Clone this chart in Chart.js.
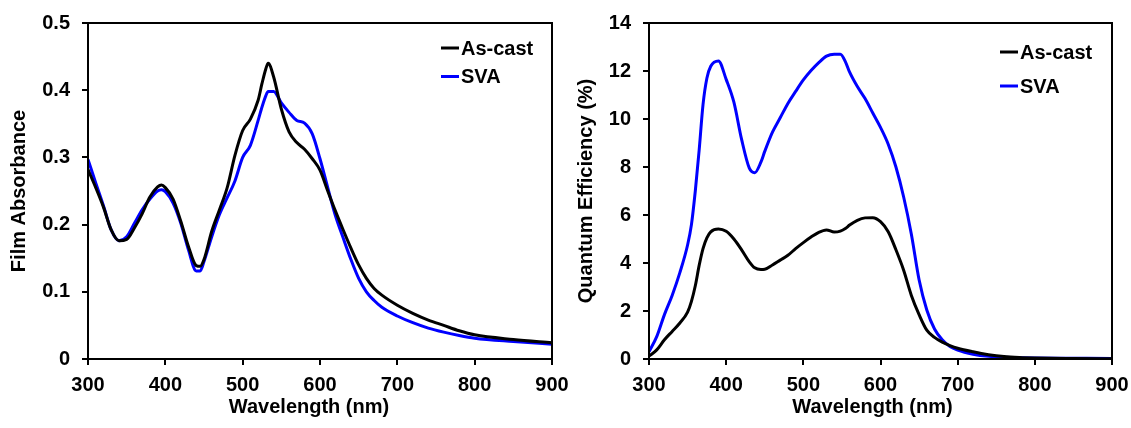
<!DOCTYPE html>
<html>
<head>
<meta charset="utf-8">
<script src="https://cdn.jsdelivr.net/npm/chart.js@4.4.1/dist/chart.umd.min.js"></script>
<style>
  html, body { margin: 0; padding: 0; background: #fff; }
  #wrap { position: relative; width: 1131px; height: 428px; overflow: hidden; }
  #absPanel { position: absolute; left: 0; top: 0; }
  #eqePanel { position: absolute; left: 570px; top: 0; }
</style>
</head>
<body>
<div id="wrap">
  <canvas id="absPanel" width="570" height="428"></canvas>
  <canvas id="eqePanel" width="561" height="428"></canvas>
</div>
<script>
// ---- Film absorbance spectra (left panel) ----
const absWavelength = [300, 310, 320, 330, 340, 350, 360, 370, 380, 390, 395, 400, 410, 420, 430, 440, 445, 450, 460, 470, 480, 490, 500, 510, 520, 525, 530, 533, 540, 550, 560, 570, 580, 590, 600, 610, 620, 630, 640, 650, 660, 670, 680, 700, 720, 740, 760, 780, 800, 850, 900];
const absAsCast = [0.282, 0.255, 0.226, 0.192, 0.176, 0.178, 0.195, 0.216, 0.241, 0.256, 0.259, 0.255, 0.238, 0.205, 0.167, 0.139, 0.138, 0.148, 0.190, 0.222, 0.255, 0.303, 0.340, 0.357, 0.385, 0.410, 0.432, 0.440, 0.420, 0.372, 0.338, 0.322, 0.312, 0.298, 0.281, 0.250, 0.220, 0.192, 0.165, 0.140, 0.120, 0.105, 0.095, 0.080, 0.068, 0.058, 0.050, 0.042, 0.036, 0.029, 0.024];
const absSVA = [0.297, 0.262, 0.228, 0.192, 0.176, 0.182, 0.202, 0.222, 0.238, 0.250, 0.252, 0.249, 0.232, 0.202, 0.162, 0.131, 0.131, 0.145, 0.182, 0.215, 0.240, 0.265, 0.300, 0.318, 0.355, 0.375, 0.392, 0.398, 0.398, 0.381, 0.367, 0.355, 0.351, 0.335, 0.298, 0.255, 0.213, 0.180, 0.148, 0.120, 0.100, 0.087, 0.077, 0.064, 0.054, 0.046, 0.040, 0.035, 0.031, 0.026, 0.022];
const absTicks = [0, 0.1, 0.2, 0.3, 0.4, 0.5];

// ---- External quantum efficiency spectra (right panel) ----
const eqeWavelength = [300, 310, 320, 330, 340, 350, 355, 360, 365, 370, 375, 380, 390, 400, 410, 420, 430, 437, 445, 450, 460, 470, 480, 490, 500, 510, 520, 530, 540, 548, 555, 560, 570, 580, 590, 600, 610, 620, 630, 640, 650, 660, 670, 680, 690, 700, 720, 740, 760, 780, 800, 850, 900];
const eqeAsCast = [0.12, 0.38, 0.80, 1.15, 1.50, 1.95, 2.40, 3.05, 3.90, 4.60, 5.05, 5.30, 5.42, 5.32, 5.00, 4.55, 4.05, 3.80, 3.73, 3.74, 3.92, 4.12, 4.32, 4.60, 4.85, 5.08, 5.28, 5.38, 5.29, 5.33, 5.45, 5.58, 5.78, 5.88, 5.89, 5.72, 5.30, 4.55, 3.70, 2.65, 1.85, 1.20, 0.90, 0.70, 0.56, 0.45, 0.30, 0.18, 0.10, 0.06, 0.04, 0.02, 0.01];
const eqeSVA = [0.30, 0.93, 1.85, 2.65, 3.60, 4.75, 5.60, 7.00, 8.70, 10.60, 11.70, 12.20, 12.42, 11.65, 10.70, 9.15, 7.95, 7.76, 8.20, 8.65, 9.45, 10.05, 10.65, 11.15, 11.63, 12.02, 12.35, 12.62, 12.70, 12.70, 12.35, 11.95, 11.35, 10.85, 10.25, 9.65, 8.95, 8.00, 6.75, 5.20, 3.30, 2.04, 1.25, 0.80, 0.52, 0.37, 0.20, 0.11, 0.07, 0.05, 0.04, 0.03, 0.02];
const eqeTicks = [0, 2, 4, 6, 8, 10, 12, 14];

const wavelengthTicks = [300, 400, 500, 600, 700, 800, 900];
const seriesNames = ['As-cast', 'SVA'];
const seriesColors = ['#000000', '#0000ff'];
const xTitleText = 'Wavelength (nm)';

const FONT_FAMILY = '"Liberation Sans", Arial, Helvetica, sans-serif';
Chart.defaults.font.family = FONT_FAMILY;
Chart.defaults.font.size = 20;
Chart.defaults.font.weight = 'bold';
Chart.defaults.color = '#000';

// Closed black frame around the plotting area
const plotFrame = {
  id: 'plotFrame',
  afterDraw(chart) {
    const { ctx, chartArea: a } = chart;
    ctx.save();
    ctx.strokeStyle = '#000';
    ctx.lineWidth = 2;
    ctx.strokeRect(a.left, a.top, a.right - a.left, a.bottom - a.top);
    ctx.restore();
  }
};

// Horizontal axis title, set slightly left of the plot centre
const xAxisTitle = {
  id: 'xAxisTitle',
  afterDraw(chart, args, opts) {
    const { ctx, chartArea: a } = chart;
    ctx.save();
    ctx.font = 'bold 20px ' + FONT_FAMILY;
    ctx.fillStyle = '#000';
    ctx.textAlign = 'center';
    ctx.textBaseline = 'middle';
    ctx.fillText(opts.text, (a.left + a.right) / 2 + opts.dx, a.bottom + opts.dy);
    ctx.restore();
  }
};

// Stacked legend: short line sample followed by the series name
const seriesKey = {
  id: 'seriesKey',
  afterDraw(chart, args, opts) {
    const { ctx, chartArea: a } = chart;
    ctx.save();
    ctx.font = 'bold 20px ' + FONT_FAMILY;
    ctx.textBaseline = 'middle';
    ctx.textAlign = 'left';
    chart.data.datasets.forEach((ds, i) => {
      const x = a.left + opts.left;
      const y = a.top + opts.top + i * opts.gap;
      ctx.strokeStyle = ds.borderColor;
      ctx.lineWidth = 3;
      ctx.beginPath();
      ctx.moveTo(x, y);
      ctx.lineTo(x + opts.len, y);
      ctx.stroke();
      ctx.fillStyle = '#000';
      ctx.fillText(ds.label, x + opts.len + 2, y + 1);
    });
    ctx.restore();
  }
};

function toPoints(xs, ys) {
  return xs.map((x, i) => ({ x: x, y: ys[i] }));
}

function makePanel(canvasId, cfg) {
  const datasets = cfg.series.map((ys, i) => ({
    label: seriesNames[i],
    data: toPoints(cfg.x, ys),
    borderColor: seriesColors[i],
    backgroundColor: seriesColors[i],
    borderWidth: 3,
    pointRadius: 0,
    cubicInterpolationMode: 'monotone',
    fill: false
  }));
  return new Chart(document.getElementById(canvasId), {
    type: 'line',
    data: { datasets: datasets },
    options: {
      responsive: false,
      animation: false,
      devicePixelRatio: 1,
      layout: { padding: { left: 0, top: 23, right: cfg.padRight, bottom: 0 } },
      plugins: {
        legend: { display: false },
        tooltip: { enabled: false },
        seriesKey: cfg.key,
        xAxisTitle: { text: xTitleText, dx: cfg.xTitleDx, dy: 48 }
      },
      scales: {
        x: {
          type: 'linear',
          min: 300,
          max: 900,
          afterBuildTicks: s => { s.ticks = wavelengthTicks.map(v => ({ value: v })); },
          afterFit: s => { s.height = 69; s.paddingLeft = 0; s.paddingRight = 0; },
          border: { display: false },
          grid: { drawOnChartArea: false, drawTicks: true, tickLength: 6, color: '#000', lineWidth: 2 },
          ticks: { padding: 8, maxRotation: 0, font: { size: 20, weight: 'bold' } },
          title: { display: false }
        },
        y: {
          type: 'linear',
          min: cfg.yTicks[0],
          max: cfg.yTicks[cfg.yTicks.length - 1],
          afterBuildTicks: s => { s.ticks = cfg.yTicks.map(v => ({ value: v })); },
          afterFit: s => { s.width = cfg.yWidth; s.paddingTop = 0; s.paddingBottom = 0; },
          border: { display: false },
          grid: { drawOnChartArea: false, drawTicks: true, tickLength: 6, color: '#000', lineWidth: 2 },
          ticks: { padding: 12, font: { size: 20, weight: 'bold' }, callback: v => String(v) },
          title: { display: true, text: cfg.yTitle, font: { size: 20, weight: 'bold' }, padding: { top: cfg.yTitlePad, bottom: 0 } }
        }
      }
    },
    plugins: [plotFrame, xAxisTitle, seriesKey]
  });
}

makePanel('absPanel', {
  x: absWavelength,
  series: [absAsCast, absSVA],
  yTicks: absTicks,
  yTitle: 'Film Absorbance',
  yTitlePad: 7,
  yWidth: 88,
  padRight: 18,
  xTitleDx: -11,
  key: { left: 353, top: 25, gap: 28.5, len: 18 }
});

makePanel('eqePanel', {
  x: eqeWavelength,
  series: [eqeAsCast, eqeSVA],
  yTicks: eqeTicks,
  yTitle: 'Quantum Efficiency (%)',
  yTitlePad: 4,
  yWidth: 79,
  padRight: 19,
  xTitleDx: -8,
  key: { left: 351, top: 29, gap: 34, len: 18 }
});
</script>
</body>
</html>
